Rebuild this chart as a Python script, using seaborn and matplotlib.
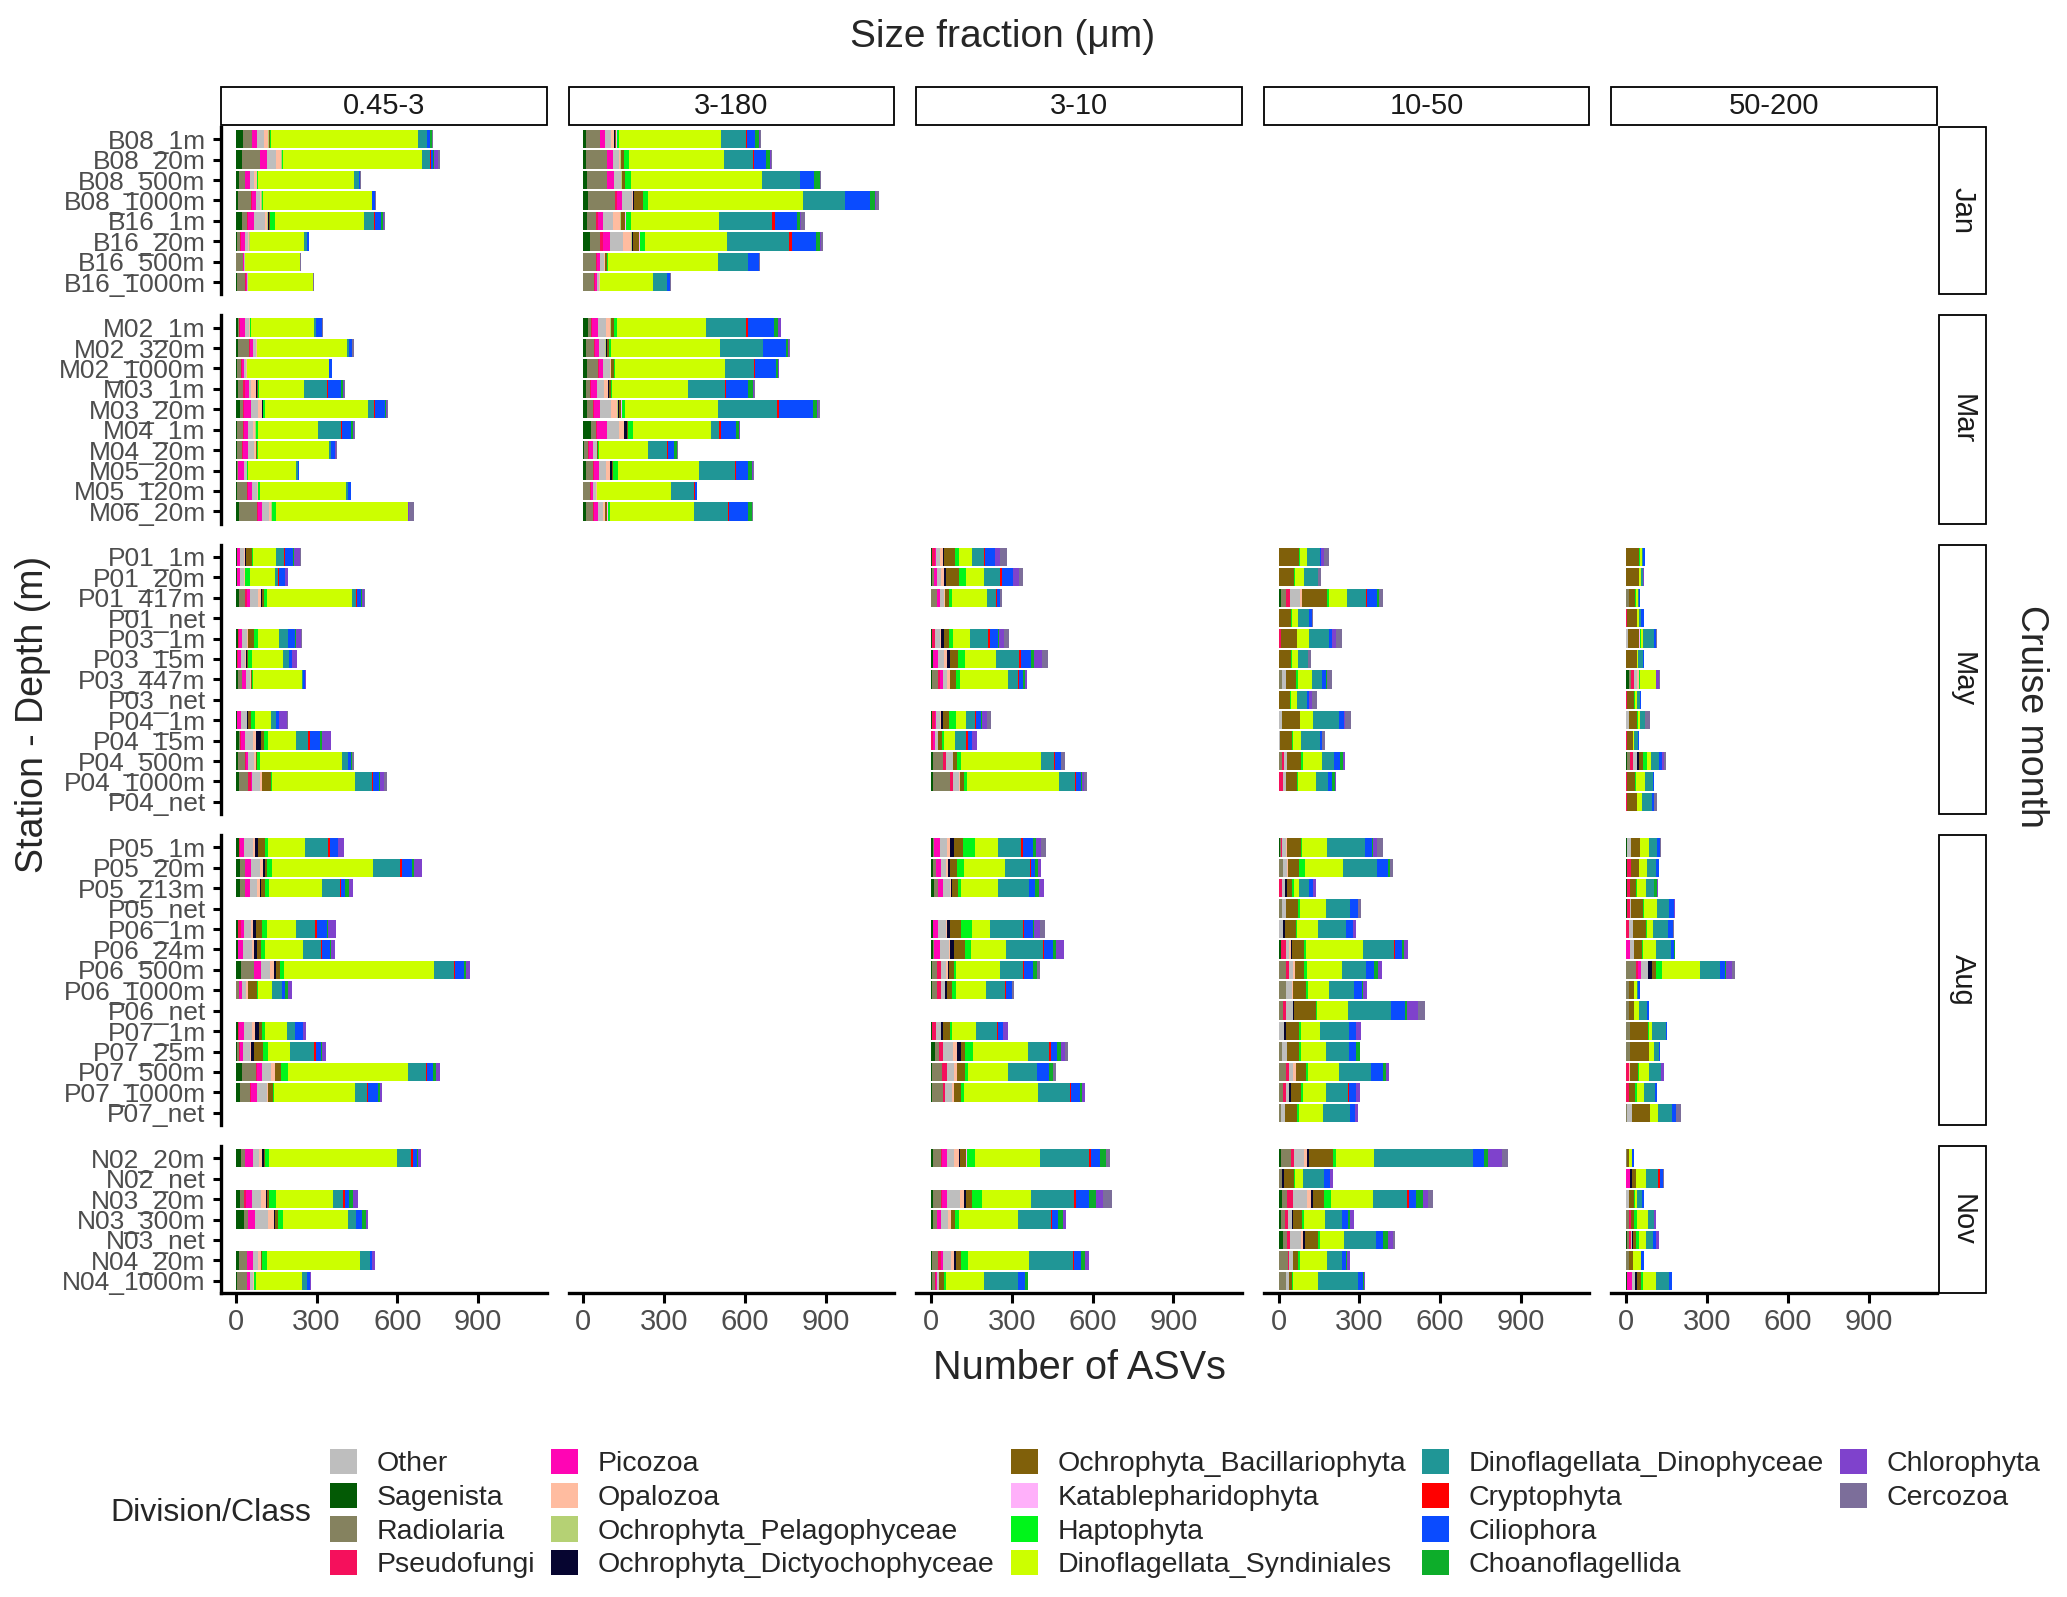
import numpy as np
import pandas as pd
import matplotlib.pyplot as plt
import matplotlib.patches as mpatches
import seaborn as sns

sns.set_theme(style="ticks")
plt.rcParams['font.family'] = ['Liberation Sans', 'DejaVu Sans']

# class codes in stacking order (from zero outwards)
STACK = ['Sag', 'Rad', 'Pse', 'Pic', 'Oth', 'Opa', 'Pel', 'Dic', 'Bac', 'Kat',
         'Hap', 'Syn', 'Din', 'Cry', 'Cil', 'Cho', 'Chl', 'Cer']
# legend order
LEGEND_CODES = ['Oth', 'Sag', 'Rad', 'Pse', 'Pic', 'Opa', 'Pel', 'Dic', 'Bac',
                'Kat', 'Hap', 'Syn', 'Din', 'Cry', 'Cil', 'Cho', 'Chl', 'Cer']
CLASS_NAMES = {
    'Oth': 'Other', 'Sag': 'Sagenista', 'Rad': 'Radiolaria', 'Pse': 'Pseudofungi',
    'Pic': 'Picozoa', 'Opa': 'Opalozoa', 'Pel': 'Ochrophyta_Pelagophyceae',
    'Dic': 'Ochrophyta_Dictyochophyceae', 'Bac': 'Ochrophyta_Bacillariophyta',
    'Kat': 'Katablepharidophyta', 'Hap': 'Haptophyta', 'Syn': 'Dinoflagellata_Syndiniales',
    'Din': 'Dinoflagellata_Dinophyceae', 'Cry': 'Cryptophyta', 'Cil': 'Ciliophora',
    'Cho': 'Choanoflagellida', 'Chl': 'Chlorophyta', 'Cer': 'Cercozoa',
}
CLASS_COLORS = {
    'Oth': '#BEBEBE', 'Sag': '#035A05', 'Rad': '#85825F', 'Pse': '#F5105C',
    'Pic': '#FF05B4', 'Opa': '#FFBCA0', 'Pel': '#B5D174', 'Dic': '#060530',
    'Bac': '#80600A', 'Kat': '#FFB0FA', 'Hap': '#00F51A', 'Syn': '#CCFF00',
    'Din': '#209696', 'Cry': '#FF0000', 'Cil': '#0A4BFF', 'Cho': '#0DAD2A',
    'Chl': '#7F42CC', 'Cer': '#7C6E9A',
}

months = ['Jan', 'Mar', 'May', 'Aug', 'Nov']
samples_jan = ['B08_1m', 'B08_20m', 'B08_500m', 'B08_1000m', 'B16_1m', 'B16_20m',
               'B16_500m', 'B16_1000m']
samples_mar = ['M02_1m', 'M02_320m', 'M02_1000m', 'M03_1m', 'M03_20m', 'M04_1m',
               'M04_20m', 'M05_20m', 'M05_120m', 'M06_20m']
samples_may = ['P01_1m', 'P01_20m', 'P01_417m', 'P01_net', 'P03_1m', 'P03_15m',
               'P03_447m', 'P03_net', 'P04_1m', 'P04_15m', 'P04_500m', 'P04_1000m', 'P04_net']
samples_aug = ['P05_1m', 'P05_20m', 'P05_213m', 'P05_net', 'P06_1m', 'P06_24m',
               'P06_500m', 'P06_1000m', 'P06_net', 'P07_1m', 'P07_25m', 'P07_500m',
               'P07_1000m', 'P07_net']
samples_nov = ['N02_20m', 'N02_net', 'N03_20m', 'N03_300m', 'N03_net', 'N04_20m', 'N04_1000m']

fractions = ['0.45-3', '3-180', '3-10', '10-50', '50-200']

asv_045_3 = {
    'B08_1m': dict(Sag=26, Rad=33, Pic=21, Oth=25, Opa=16, Pel=3, Bac=2, Hap=3, Syn=548, Din=31, Cry=2, Cil=10, Cho=8, Chl=2, Cer=3),
    'B08_20m': dict(Sag=24, Rad=65, Pse=2, Pic=24, Oth=35, Opa=18, Pel=3, Hap=3, Syn=519, Din=29, Cry=2, Cil=9, Cho=4, Chl=13, Cer=8),
    'B08_500m': dict(Sag=13, Rad=20, Pse=3, Pic=18, Oth=12, Opa=12, Pel=2, Hap=3, Syn=355, Din=21, Cil=3, Cer=4),
    'B08_1000m': dict(Sag=10, Rad=48, Pse=3, Pic=13, Oth=15, Opa=5, Pel=3, Hap=4, Syn=403, Din=3, Cil=10, Cer=4),
    'B16_1m': dict(Sag=22, Rad=21, Pse=3, Pic=22, Oth=39, Opa=10, Pel=3, Dic=2, Bac=4, Hap=18, Syn=331, Din=39, Cry=2, Cil=22, Cho=10, Chl=3, Cer=4),
    'B16_20m': dict(Sag=5, Rad=10, Pse=3, Pic=17, Oth=9, Opa=5, Pel=2, Hap=3, Syn=198, Din=13, Cil=5, Cer=3),
    'B16_500m': dict(Sag=2, Rad=24, Pse=2, Pic=3, Oth=2, Syn=204, Din=2, Cer=4),
    'B16_1000m': dict(Sag=5, Rad=30, Pse=2, Pic=5, Oth=3, Opa=2, Syn=238, Cil=2, Cer=3),
    'M02_1m': dict(Sag=10, Rad=3, Pse=3, Pic=18, Oth=14, Opa=3, Hap=5, Syn=234, Din=7, Cil=22, Cer=3),
    'M02_320m': dict(Sag=10, Rad=38, Pse=3, Pic=14, Oth=9, Opa=3, Hap=3, Syn=333, Din=8, Cil=9, Chl=3, Cer=4),
    'M02_1000m': dict(Sag=3, Rad=18, Pse=2, Pic=8, Oth=6, Opa=3, Hap=3, Syn=304, Cil=10, Cer=2),
    'M03_1m': dict(Sag=10, Rad=18, Pse=8, Pic=12, Oth=10, Opa=16, Dic=3, Bac=5, Hap=3, Syn=170, Din=84, Cry=5, Cil=46, Cho=8, Chl=5, Cer=3),
    'M03_20m': dict(Sag=17, Rad=10, Pse=4, Pic=27, Oth=26, Opa=13, Dic=3, Hap=9, Syn=383, Din=21, Cry=5, Cil=37, Cho=3, Chl=3, Cer=4),
    'M04_1m': dict(Sag=4, Rad=22, Pse=4, Pic=16, Oth=16, Opa=10, Pel=3, Hap=9, Syn=220, Din=85, Cry=5, Cil=33, Cho=8, Chl=3, Cer=5),
    'M04_20m': dict(Sag=4, Rad=20, Pse=3, Pic=20, Oth=20, Opa=9, Bac=3, Hap=4, Syn=263, Din=9, Cil=13, Chl=3, Cer=4),
    'M05_20m': dict(Sag=4, Rad=3, Pse=3, Pic=20, Oth=10, Opa=3, Hap=2, Syn=177, Din=9, Cil=3, Cer=2),
    'M05_120m': dict(Sag=5, Rad=37, Pse=3, Pic=16, Oth=18, Opa=3, Hap=8, Syn=320, Din=8, Cil=8, Cer=2),
    'M06_20m': dict(Sag=12, Rad=67, Pse=3, Pic=16, Oth=24, Opa=9, Pel=3, Hap=17, Syn=487, Din=3, Chl=2, Cer=17),
    'P01_1m': dict(Sag=3, Pse=2, Pic=10, Oth=15, Opa=4, Dic=3, Bac=22, Hap=4, Syn=87, Din=30, Cry=2, Cil=32, Cho=3, Chl=21, Cer=4),
    'P01_20m': dict(Sag=3, Pic=12, Oth=15, Opa=3, Bac=3, Hap=15, Syn=95, Din=12, Cry=2, Cil=22, Chl=10, Cer=3),
    'P01_417m': dict(Sag=13, Rad=21, Pse=6, Pic=12, Oth=30, Opa=10, Dic=7, Bac=4, Hap=12, Syn=316, Din=16, Cry=2, Cil=17, Cho=3, Chl=8, Cer=3),
    'P03_1m': dict(Sag=9, Pse=3, Pic=12, Oth=17, Opa=3, Dic=3, Bac=20, Hap=15, Syn=80, Din=30, Cry=3, Cil=24, Cho=3, Chl=19, Cer=4),
    'P03_15m': dict(Sag=4, Pse=3, Pic=11, Oth=16, Opa=3, Dic=6, Bac=3, Hap=13, Syn=118, Din=20, Cry=2, Cil=11, Chl=16, Cer=3),
    'P03_447m': dict(Sag=7, Rad=17, Pic=13, Oth=16, Opa=5, Bac=3, Hap=3, Syn=181, Din=3, Cil=8, Chl=3, Cer=3),
    'P04_1m': dict(Sag=3, Pic=15, Oth=22, Opa=3, Dic=3, Bac=10, Hap=15, Syn=58, Din=19, Cry=3, Cil=11, Chl=27, Cer=4),
    'P04_15m': dict(Sag=12, Rad=4, Pse=4, Pic=15, Oth=30, Opa=11, Dic=17, Bac=13, Hap=15, Syn=103, Din=43, Cry=7, Cil=38, Cho=8, Chl=32, Cer=2),
    'P04_500m': dict(Sag=7, Rad=29, Pse=3, Pic=7, Oth=23, Opa=6, Bac=3, Hap=10, Syn=306, Din=21, Cry=2, Cil=12, Cho=3, Cer=5),
    'P04_1000m': dict(Sag=11, Rad=36, Pse=11, Pic=3, Oth=28, Opa=10, Bac=33, Hap=3, Syn=307, Din=64, Cry=2, Cil=24, Cho=4, Chl=16, Cer=8),
    'P05_1m': dict(Sag=11, Pse=6, Pic=12, Oth=33, Opa=10, Dic=11, Bac=26, Hap=11, Syn=137, Din=85, Cry=7, Cil=29, Chl=24),
    'P05_20m': dict(Sag=17, Rad=17, Pic=22, Oth=34, Opa=10, Dic=7, Bac=10, Hap=19, Syn=374, Din=100, Cry=7, Cil=38, Cho=5, Chl=32),
    'P05_213m': dict(Sag=16, Rad=18, Pic=19, Oth=27, Opa=10, Dic=3, Bac=16, Hap=15, Syn=197, Din=67, Cry=2, Cil=17, Cho=15, Chl=13),
    'P06_1m': dict(Sag=10, Pse=10, Pic=12, Oth=24, Opa=9, Dic=10, Bac=24, Hap=18, Syn=108, Din=70, Cry=7, Cil=38, Cho=3, Chl=28),
    'P06_24m': dict(Sag=7, Pse=3, Pic=18, Oth=32, Opa=6, Dic=11, Bac=15, Hap=16, Syn=143, Din=67, Cry=2, Cil=30, Cho=3, Chl=16),
    'P06_500m': dict(Sag=19, Rad=49, Pic=24, Oth=36, Opa=15, Dic=7, Bac=15, Hap=15, Syn=556, Din=75, Cry=3, Cil=32, Cho=10, Chl=12),
    'P06_1000m': dict(Rad=12, Pic=10, Oth=16, Opa=6, Bac=34, Hap=3, Syn=53, Din=38, Cil=10, Cho=11, Chl=15),
    'P07_1m': dict(Sag=10, Pse=3, Pic=19, Oth=28, Opa=12, Dic=15, Bac=12, Hap=11, Syn=80, Din=28, Cry=3, Cil=27, Chl=13),
    'P07_25m': dict(Sag=3, Rad=10, Pse=3, Pic=11, Oth=27, Opa=3, Dic=10, Bac=33, Hap=19, Syn=84, Din=87, Cry=7, Cil=21, Cho=3, Chl=15),
    'P07_500m': dict(Sag=23, Rad=51, Pse=3, Pic=22, Oth=32, Opa=16, Bac=21, Hap=24, Syn=447, Din=68, Cry=3, Cil=22, Cho=12, Chl=15),
    'P07_1000m': dict(Sag=16, Rad=38, Pse=3, Pic=21, Oth=39, Opa=4, Bac=18, Hap=3, Syn=301, Din=45, Cry=2, Cil=38, Cho=8, Chl=6),
    'N02_20m': dict(Sag=19, Rad=16, Pic=29, Oth=22, Opa=13, Dic=7, Bac=3, Hap=15, Syn=475, Din=51, Cry=7, Cil=17, Cho=3, Chl=12),
    'N03_20m': dict(Sag=17, Rad=12, Pse=9, Pic=21, Oth=36, Opa=18, Dic=3, Bac=9, Hap=26, Syn=211, Din=36, Cry=7, Cil=17, Cho=13, Chl=18),
    'N03_300m': dict(Sag=29, Rad=15, Pse=3, Pic=24, Oth=50, Opa=21, Dic=3, Bac=11, Hap=19, Syn=243, Din=27, Cry=3, Cil=22, Cho=12, Chl=9),
    'N04_20m': dict(Sag=13, Rad=27, Pic=24, Oth=18, Opa=10, Dic=3, Bac=3, Hap=18, Syn=346, Din=36, Cil=8, Chl=12),
    'N04_1000m': dict(Sag=3, Rad=40, Pic=10, Oth=12, Opa=3, Hap=7, Syn=171, Din=17, Cil=13, Chl=4),
}

asv_3_180 = {
    'B08_1m': dict(Sag=8, Rad=52, Pse=3, Pic=16, Oth=24, Opa=9, Pel=2, Dic=2, Bac=6, Kat=2, Hap=10, Syn=377, Din=94, Cry=3, Cil=30, Cho=14, Chl=3, Cer=5),
    'B08_20m': dict(Sag=9, Rad=77, Pse=3, Pic=20, Oth=22, Opa=6, Pel=2, Dic=2, Bac=9, Hap=20, Syn=351, Din=109, Cry=3, Cil=46, Cho=13, Chl=3, Cer=6),
    'B08_500m': dict(Sag=13, Rad=73, Pse=3, Pic=24, Oth=25, Opa=3, Pel=2, Bac=10, Hap=24, Syn=487, Din=139, Cry=3, Cil=52, Cho=20, Chl=2, Cer=2),
    'B08_1000m': dict(Sag=18, Rad=100, Pse=8, Pic=18, Oth=37, Opa=3, Pel=2, Dic=2, Bac=33, Kat=2, Hap=18, Syn=574, Din=155, Cry=3, Cil=92, Cho=18, Chl=3, Cer=13),
    'B16_1m': dict(Sag=13, Rad=33, Pse=8, Pic=20, Oth=37, Opa=25, Pel=3, Dic=2, Bac=14, Kat=2, Hap=21, Syn=327, Din=196, Cry=10, Cil=81, Cho=13, Chl=3, Cer=16),
    'B16_20m': dict(Sag=24, Rad=37, Pse=13, Pic=26, Oth=48, Opa=30, Pel=3, Dic=4, Bac=22, Kat=3, Hap=20, Syn=303, Din=230, Cry=10, Cil=89, Cho=18, Chl=3, Cer=5),
    'B16_500m': dict(Rad=46, Pse=3, Pic=14, Oth=13, Opa=3, Bac=10, Hap=3, Syn=409, Din=109, Cil=41, Cer=3),
    'B16_1000m': dict(Rad=41, Pse=3, Pic=5, Oth=10, Opa=2, Syn=199, Din=51, Cil=12, Cer=3),
    'M02_1m': dict(Sag=17, Rad=12, Pse=3, Pic=21, Oth=30, Opa=16, Pel=2, Dic=3, Bac=9, Kat=2, Hap=10, Syn=330, Din=148, Cry=8, Cil=98, Cho=13, Chl=10, Cer=3),
    'M02_320m': dict(Sag=10, Rad=29, Pse=3, Pic=17, Oth=20, Opa=3, Pel=2, Dic=2, Bac=8, Hap=9, Syn=406, Din=156, Cry=3, Cil=86, Cho=5, Chl=3, Cer=4),
    'M02_1000m': dict(Sag=13, Rad=41, Pse=3, Pic=17, Oth=26, Opa=3, Bac=12, Hap=3, Syn=407, Din=110, Cry=2, Cil=77, Cho=8, Chl=3, Cer=3),
    'M03_1m': dict(Sag=10, Rad=16, Pse=3, Pic=20, Oth=29, Opa=14, Dic=3, Bac=9, Hap=3, Syn=282, Din=135, Cry=7, Cil=81, Cho=16, Chl=5, Cer=4),
    'M03_20m': dict(Sag=13, Rad=24, Pse=3, Pic=21, Oth=42, Opa=22, Pel=3, Dic=3, Bac=10, Kat=2, Hap=12, Syn=345, Din=219, Cry=8, Cil=124, Cho=16, Chl=5, Cer=8),
    'M04_1m': dict(Sag=28, Rad=20, Pse=3, Pic=35, Oth=46, Opa=17, Pel=3, Dic=9, Bac=3, Kat=2, Hap=20, Syn=288, Din=31, Cry=7, Cil=54, Cho=12, Chl=2, Cer=3),
    'M04_20m': dict(Sag=3, Rad=14, Pse=3, Pic=16, Oth=13, Opa=3, Bac=3, Hap=3, Syn=182, Din=71, Cry=3, Cil=21, Cho=13, Cer=3),
    'M05_20m': dict(Sag=10, Rad=26, Pse=3, Pic=20, Oth=26, Opa=13, Dic=8, Bac=3, Hap=18, Syn=302, Din=134, Cry=3, Cil=46, Cho=13, Chl=5, Cer=3),
    'M05_120m': dict(Rad=24, Pse=3, Pic=10, Oth=10, Opa=3, Syn=274, Din=86, Cry=3, Cil=8, Cer=2),
    'M06_20m': dict(Sag=10, Rad=26, Pse=3, Pic=16, Oth=18, Opa=8, Bac=8, Kat=2, Hap=8, Syn=312, Din=126, Cry=3, Cil=72, Cho=14, Cer=2),
}

asv_3_10 = {
    'P01_1m': dict(Sag=2, Rad=2, Pse=10, Pic=3, Oth=18, Opa=10, Dic=5, Bac=39, Hap=15, Syn=49, Din=44, Cry=5, Cil=34, Chl=22, Cer=24),
    'P01_20m': dict(Sag=3, Rad=7, Pic=12, Oth=15, Opa=10, Dic=10, Bac=48, Hap=24, Syn=67, Din=61, Cry=7, Cil=41, Chl=20, Cer=15),
    'P01_417m': dict(Rad=21, Pic=12, Oth=16, Opa=3, Bac=13, Hap=12, Syn=132, Din=33, Cry=2, Cil=11, Cer=7),
    'P03_1m': dict(Sag=3, Pse=12, Oth=18, Opa=4, Dic=11, Bac=17, Hap=17, Syn=61, Din=68, Cry=7, Cil=32, Cho=4, Chl=18, Cer=18),
    'P03_15m': dict(Sag=9, Pic=18, Oth=20, Opa=12, Dic=10, Bac=33, Hap=26, Syn=112, Din=85, Cry=9, Cil=38, Cho=11, Chl=28, Cer=24),
    'P03_447m': dict(Sag=3, Rad=23, Pse=6, Pic=11, Oth=17, Opa=10, Bac=21, Hap=18, Syn=177, Din=37, Cry=2, Cil=16, Cho=8, Chl=8),
    'P04_1m': dict(Sag=3, Pse=11, Pic=3, Oth=16, Opa=4, Dic=7, Bac=21, Hap=26, Syn=39, Din=34, Cry=3, Cil=20, Cho=3, Chl=18, Cer=15),
    'P04_15m': dict(Pse=9, Pic=7, Oth=9, Bac=17, Hap=7, Syn=39, Din=43, Cry=6, Cil=17, Chl=17),
    'P04_500m': dict(Sag=7, Rad=37, Pse=13, Oth=23, Opa=3, Bac=13, Hap=15, Syn=296, Din=51, Cry=2, Cil=23, Cer=16),
    'P04_1000m': dict(Sag=6, Rad=63, Pse=12, Oth=23, Opa=3, Bac=15, Hap=12, Syn=343, Din=59, Cry=2, Cil=20, Cho=3, Chl=8, Cer=10),
    'P05_1m': dict(Sag=9, Rad=3, Pic=20, Oth=27, Opa=10, Dic=15, Bac=35, Hap=43, Syn=85, Din=88, Cry=6, Cil=38, Cho=10, Chl=21, Cer=18),
    'P05_20m': dict(Sag=7, Rad=11, Pic=18, Oth=18, Opa=9, Dic=6, Bac=29, Hap=24, Syn=152, Din=93, Cry=3, Cil=17, Cho=10, Chl=12),
    'P05_213m': dict(Sag=10, Rad=15, Pic=20, Oth=24, Opa=7, Dic=3, Bac=21, Hap=10, Syn=137, Din=117, Cil=21, Cho=16, Chl=17),
    'P06_1m': dict(Sag=7, Pic=20, Oth=27, Opa=7, Dic=11, Bac=40, Hap=40, Syn=66, Din=123, Cry=6, Cil=32, Cho=5, Chl=21, Cer=18),
    'P06_24m': dict(Sag=7, Rad=3, Pic=24, Oth=34, Opa=3, Dic=15, Bac=39, Hap=24, Syn=131, Din=135, Cry=6, Cil=33, Cho=11, Chl=27),
    'P06_500m': dict(Sag=3, Rad=21, Pse=15, Oth=17, Opa=7, Dic=3, Bac=18, Hap=9, Syn=162, Din=88, Cry=3, Cil=33, Cho=16, Cer=9),
    'P06_1000m': dict(Sag=3, Rad=21, Pse=12, Oth=15, Dic=7, Bac=21, Hap=13, Syn=112, Din=72, Cry=2, Cil=21, Cho=3, Cer=7),
    'P07_1m': dict(Sag=3, Pse=16, Oth=20, Dic=7, Bac=24, Hap=9, Syn=87, Din=78, Cry=3, Cil=20, Chl=18),
    'P07_25m': dict(Sag=15, Rad=13, Pse=18, Oth=34, Opa=15, Dic=17, Bac=16, Hap=28, Syn=204, Din=79, Cry=7, Cil=23, Cho=12, Chl=18, Cer=10),
    'P07_500m': dict(Sag=3, Rad=39, Pse=16, Oth=27, Opa=12, Bac=30, Hap=12, Syn=148, Din=106, Cry=2, Cil=43, Cho=16, Cer=9),
    'P07_1000m': dict(Sag=3, Rad=40, Pse=10, Oth=26, Opa=5, Bac=29, Hap=9, Syn=275, Din=120, Cry=2, Cil=33, Cho=10, Chl=10),
    'N02_20m': dict(Sag=6, Rad=30, Pse=6, Pic=16, Oth=27, Opa=18, Dic=6, Bac=20, Kat=3, Hap=33, Syn=238, Din=183, Cry=7, Cil=35, Cho=21, Cer=15),
    'N03_20m': dict(Sag=7, Rad=29, Pse=6, Pic=16, Oth=49, Opa=17, Dic=5, Bac=24, Hap=37, Syn=183, Din=159, Cry=7, Cil=48, Cho=26, Chl=24, Cer=34),
    'N03_300m': dict(Sag=7, Rad=15, Pic=17, Oth=24, Opa=10, Bac=16, Hap=16, Syn=218, Din=123, Cry=2, Cil=24, Cho=18, Chl=12),
    'N04_20m': dict(Sag=3, Rad=23, Pse=10, Pic=10, Oth=27, Opa=12, Dic=9, Bac=18, Hap=24, Syn=229, Din=163, Cry=2, Cil=28, Cho=15, Chl=12),
    'N04_1000m': dict(Sag=3, Rad=13, Pse=4, Pic=3, Oth=7, Bac=17, Hap=9, Syn=140, Din=126, Cil=27, Cho=10),
}

asv_10_50 = {
    'P01_1m': dict(Rad=3, Bac=74, Hap=3, Syn=24, Din=51, Cil=3, Chl=10, Cer=21),
    'P01_20m': dict(Rad=3, Bac=55, Hap=3, Syn=33, Din=51, Cil=3, Cer=10),
    'P01_417m': dict(Sag=10, Rad=16, Pse=15, Oth=37, Opa=9, Bac=91, Hap=10, Syn=65, Din=72, Cry=2, Cil=40, Cho=7, Cer=12),
    'P01_net': dict(Rad=3, Bac=43, Hap=2, Syn=24, Din=41, Cil=12, Cer=3),
    'P03_1m': dict(Pse=10, Bac=57, Hap=2, Syn=43, Din=76, Cil=9, Chl=17, Cer=22),
    'P03_15m': dict(Rad=3, Bac=44, Hap=3, Syn=21, Din=39, Cer=11),
    'P03_447m': dict(Rad=13, Oth=15, Bac=37, Hap=7, Syn=51, Din=39, Cil=15, Cho=4, Cer=18),
    'P03_net': dict(Pse=3, Bac=41, Hap=2, Syn=21, Din=37, Cil=9, Chl=12, Cer=16),
    'P04_1m': dict(Pse=3, Oth=10, Bac=65, Hap=2, Syn=46, Din=97, Cil=20, Chl=3, Cer=22),
    'P04_15m': dict(Pse=3, Oth=3, Bac=45, Hap=2, Syn=32, Din=67, Cil=10, Cer=12),
    'P04_500m': dict(Sag=3, Rad=9, Pse=7, Oth=11, Bac=54, Hap=6, Syn=72, Din=43, Cry=2, Cil=22, Cho=9, Chl=10),
    'P04_1000m': dict(Pse=16, Oth=12, Bac=40, Hap=3, Syn=69, Din=45, Cil=15, Cho=10, Chl=3),
    'P05_1m': dict(Sag=7, Rad=3, Pse=3, Oth=15, Opa=3, Bac=52, Hap=3, Syn=94, Din=140, Cry=2, Cil=24, Cho=3, Chl=18, Cer=21),
    'P05_20m': dict(Sag=3, Rad=12, Oth=18, Opa=3, Bac=40, Hap=21, Syn=141, Din=127, Cry=2, Cil=38, Cho=9, Cer=10),
    'P05_213m': dict(Pse=12, Oth=13, Dic=6, Bac=18, Hap=9, Syn=18, Din=37, Cil=15, Chl=10),
    'P05_net': dict(Rad=13, Oth=15, Bac=45, Hap=7, Syn=96, Din=88, Cil=32, Cer=10),
    'P06_1m': dict(Pse=3, Oth=15, Dic=7, Bac=39, Hap=3, Syn=79, Din=106, Cil=26, Chl=11),
    'P06_24m': dict(Sag=10, Pse=18, Oth=12, Opa=7, Dic=3, Bac=44, Hap=9, Syn=212, Din=112, Cry=7, Cil=26, Cho=6, Chl=15),
    'P06_500m': dict(Rad=28, Pse=12, Oth=15, Opa=7, Bac=33, Hap=9, Syn=132, Din=88, Cry=2, Cil=29, Cho=15, Chl=15),
    'P06_1000m': dict(Rad=26, Pse=3, Oth=21, Opa=3, Bac=48, Hap=10, Syn=78, Din=90, Cil=32, Cho=3, Chl=16),
    'P06_net': dict(Sag=3, Rad=15, Pse=10, Oth=24, Dic=7, Bac=80, Hap=5, Syn=114, Din=161, Cil=49, Cho=10, Chl=39, Cer=28),
    'P07_1m': dict(Pse=3, Oth=18, Dic=6, Bac=49, Hap=7, Syn=69, Din=108, Cil=28, Chl=18),
    'P07_25m': dict(Rad=13, Oth=17, Bac=46, Hap=7, Syn=93, Din=85, Cil=28, Cho=12),
    'P07_500m': dict(Rad=28, Pse=10, Oth=17, Opa=10, Bac=37, Hap=6, Syn=116, Din=118, Cil=46, Cho=12, Chl=9),
    'P07_1000m': dict(Rad=18, Pse=10, Oth=12, Dic=7, Bac=35, Hap=10, Syn=84, Din=83, Cry=2, Cil=26, Chl=15),
    'P07_net': dict(Rad=10, Oth=12, Bac=45, Hap=10, Syn=89, Din=99, Cil=19, Chl=12),
    'N02_20m': dict(Sag=10, Rad=35, Pse=12, Oth=38, Opa=9, Dic=10, Bac=89, Hap=11, Syn=141, Din=365, Cry=2, Cil=39, Cho=17, Chl=51, Cer=24),
    'N02_net': dict(Rad=13, Dic=7, Bac=38, Hap=3, Syn=30, Din=77, Cil=24, Chl=10),
    'N03_20m': dict(Sag=12, Rad=18, Pse=24, Oth=50, Opa=16, Dic=7, Bac=43, Hap=26, Syn=155, Din=125, Cry=7, Cil=29, Cho=24, Chl=17, Cer=22),
    'N03_300m': dict(Sag=10, Rad=12, Pse=12, Oth=16, Dic=3, Bac=34, Hap=9, Syn=77, Din=61, Cry=2, Cil=21, Cho=9, Chl=13),
    'N03_net': dict(Sag=16, Rad=15, Pse=12, Oth=40, Opa=9, Dic=7, Bac=49, Hap=6, Syn=88, Din=118, Cry=2, Cil=26, Cho=18, Chl=18, Cer=9),
    'N04_20m': dict(Rad=34, Pse=3, Oth=15, Dic=3, Bac=18, Hap=6, Syn=100, Din=55, Cil=18, Cho=3, Chl=11),
    'N04_1000m': dict(Rad=26, Pse=3, Oth=9, Bac=12, Hap=5, Syn=91, Din=147, Cil=21, Cho=4, Chl=4),
}

asv_50_200 = {
    'P01_1m': dict(Kat=3, Bac=46, Hap=3, Syn=5, Din=7, Cil=6),
    'P01_20m': dict(Bac=49, Syn=6, Din=6, Chl=5),
    'P01_417m': dict(Rad=10, Bac=24, Hap=3, Syn=6, Din=3, Cil=4),
    'P01_net': dict(Pse=3, Bac=36, Hap=3, Syn=6, Din=7, Cil=10),
    'P03_1m': dict(Kat=4, Oth=6, Bac=42, Hap=4, Syn=7, Din=41, Cil=7, Cer=5),
    'P03_15m': dict(Bac=39, Syn=6, Din=16, Cil=6),
    'P03_447m': dict(Sag=10, Rad=7, Pse=11, Oth=12, Opa=6, Hap=7, Syn=59, Chl=8, Cer=6),
    'P03_net': dict(Pse=3, Bac=27, Hap=3, Syn=6, Din=12, Cil=5),
    'P04_1m': dict(Oth=12, Bac=30, Hap=3, Syn=8, Din=18, Cer=18),
    'P04_15m': dict(Pse=3, Bac=21, Syn=6, Din=15, Cil=3),
    'P04_500m': dict(Sag=3, Rad=11, Pse=10, Oth=15, Dic=7, Bac=15, Hap=16, Syn=16, Din=29, Cil=10, Chl=7, Cer=7),
    'P04_1000m': dict(Pse=3, Bac=30, Hap=3, Syn=33, Din=30, Cil=6),
    'P04_net': dict(Pse=3, Bac=36, Syn=18, Din=39, Cil=8, Cer=12),
    'P05_1m': dict(Sag=3, Oth=15, Bac=34, Syn=32, Din=32, Cil=10, Cer=4),
    'P05_20m': dict(Sag=3, Pse=15, Bac=30, Syn=30, Din=32, Cil=11),
    'P05_213m': dict(Sag=3, Pse=12, Bac=21, Hap=3, Syn=34, Din=32, Cho=10, Chl=4),
    'P05_net': dict(Sag=3, Pse=12, Oth=3, Bac=45, Hap=4, Syn=46, Din=45, Cil=21, Chl=4),
    'P06_1m': dict(Pse=12, Oth=12, Dic=3, Bac=45, Hap=6, Syn=22, Din=57, Cil=16, Cer=4),
    'P06_24m': dict(Pic=16, Oth=12, Bac=32, Hap=3, Syn=46, Din=57, Cil=12, Cho=4),
    'P06_500m': dict(Rad=36, Pse=8, Pic=12, Oth=25, Dic=15, Bac=16, Hap=21, Syn=142, Din=73, Cry=2, Cil=17, Cho=5, Chl=21, Cer=12),
    'P06_1000m': dict(Rad=12, Bac=16, Syn=12, Din=5, Cil=7),
    'P06_net': dict(Rad=12, Bac=18, Syn=17, Din=29, Cil=10),
    'P07_1m': dict(Rad=16, Bac=64, Hap=3, Syn=12, Din=51, Cil=7),
    'P07_25m': dict(Rad=16, Bac=67, Hap=3, Syn=17, Din=19, Cil=5),
    'P07_500m': dict(Pse=12, Opa=3, Bac=28, Hap=3, Syn=39, Din=46, Chl=10),
    'P07_1000m': dict(Pse=12, Bac=22, Hap=8, Syn=24, Din=40, Cil=7),
    'P07_net': dict(Rad=3, Oth=20, Bac=64, Hap=3, Syn=29, Din=50, Cil=17, Cer=17),
    'N02_20m': dict(Rad=4, Bac=6, Syn=12, Cil=6),
    'N02_net': dict(Pic=16, Dic=6, Bac=13, Hap=3, Syn=36, Din=45, Cry=5, Cil=12, Cer=5),
    'N03_20m': dict(Oth=10, Bac=18, Hap=3, Syn=11, Din=16, Cil=10),
    'N03_300m': dict(Rad=11, Pse=7, Bac=12, Hap=10, Syn=41, Din=22, Chl=8),
    'N03_net': dict(Sag=3, Rad=7, Pse=7, Oth=3, Dic=6, Bac=12, Hap=8, Syn=28, Din=24, Cil=12, Chl=10),
    'N04_20m': dict(Rad=12, Bac=12, Hap=3, Syn=29, Cil=10),
    'N04_1000m': dict(Sag=3, Pic=17, Oth=12, Dic=8, Bac=15, Hap=7, Syn=48, Din=48, Cil=12),
}

month_samples = [samples_jan, samples_mar, samples_may, samples_aug, samples_nov]
fraction_data = [asv_045_3, asv_3_180, asv_3_10, asv_10_50, asv_50_200]

# long table
records = []
for frac, data in zip(fractions, fraction_data):
    for sample, counts in data.items():
        for code, val in counts.items():
            records.append((frac, sample, code, val))
df = pd.DataFrame(records, columns=['fraction', 'sample', 'cls', 'asvs'])

xmax = df.groupby(['fraction', 'sample'])['asvs'].sum().max()

W, H = 2067, 1597
fig = plt.figure(figsize=(W / 100, H / 100), dpi=100)
heights = [len(s) + 0.2 for s in month_samples]
gs = fig.add_gridspec(5, 5, height_ratios=heights,
                      left=221 / W, right=1937 / W, top=1 - 127 / H, bottom=1 - 1293 / H,
                      wspace=0.0675, hspace=0.097)

axes = np.empty((5, 5), dtype=object)
for i, samples in enumerate(month_samples):
    for j, frac in enumerate(fractions):
        ax = fig.add_subplot(gs[i, j])
        axes[i, j] = ax
        sub = df[(df['fraction'] == frac) & (df['sample'].isin(samples))]
        wide = (sub.pivot_table(index='sample', columns='cls', values='asvs', aggfunc='sum')
                .reindex(index=samples, columns=STACK).fillna(0))
        ypos = np.arange(len(samples))
        left = np.zeros(len(samples))
        for code in STACK:
            vals = wide[code].values
            ax.barh(ypos, vals, left=left, height=0.9, color=CLASS_COLORS[code], linewidth=0)
            left += vals
        ax.set_xlim(-0.05 * xmax, 1.05 * xmax)
        ax.set_ylim(len(samples) - 0.4, -0.6)
        ax.set_facecolor('white')
        for side in ['top', 'right', 'left', 'bottom']:
            ax.spines[side].set_visible(False)
        ax.set_xticks([0, 300, 600, 900])
        ax.set_yticks(ypos)
        ax.set_yticklabels(samples)
        ax.tick_params(axis='y', left=(j == 0), labelleft=(j == 0), length=6, width=2.2,
                       color='black', labelsize=19, labelcolor='#4D4D4D', pad=5)
        ax.tick_params(axis='x', bottom=(i == 4), labelbottom=(i == 4), length=7, width=2.2,
                       color='black', labelsize=21, labelcolor='#4D4D4D', pad=4)
        if j == 0:
            ax.spines['left'].set_visible(True)
            ax.spines['left'].set_linewidth(2.4)
            ax.spines['left'].set_color('black')
        if i == 4:
            ax.spines['bottom'].set_visible(True)
            ax.spines['bottom'].set_linewidth(2.4)
            ax.spines['bottom'].set_color('black')
        ax.grid(False)

# top strips (size fraction)
for j, frac in enumerate(fractions):
    pos = axes[0, j].get_position()
    y0, y1 = 1 - 125 / H, 1 - 87 / H
    fig.patches.append(mpatches.Rectangle((pos.x0, y0), pos.width, y1 - y0,
                                          transform=fig.transFigure, facecolor='white',
                                          edgecolor='black', linewidth=1.3))
    fig.text(pos.x0 + pos.width / 2, (y0 + y1) / 2, frac, ha='center', va='center',
             fontsize=21, color='#1A1A1A')

# right strips (cruise month)
for i, month in enumerate(months):
    pos = axes[i, 4].get_position()
    x0, x1 = 1939 / W, 1986 / W
    fig.patches.append(mpatches.Rectangle((x0, pos.y0), x1 - x0, pos.height,
                                          transform=fig.transFigure, facecolor='white',
                                          edgecolor='black', linewidth=1.3))
    fig.text((x0 + x1) / 2, pos.y0 + pos.height / 2, month, ha='center', va='center',
             rotation=-90, fontsize=21, color='#1A1A1A')

fig.text(1003 / W, 1 - 37 / H, 'Size fraction (μm)', ha='center', va='center', fontsize=28)
fig.text(1079 / W, 1 - 1368 / H, 'Number of ASVs', ha='center', va='center', fontsize=28.5)
fig.text(33 / W, 1 - 714 / H, 'Station - Depth (m)', ha='center', va='center',
         rotation=90, fontsize=27)
fig.text(2031 / W, 1 - 716 / H, 'Cruise month', ha='center', va='center',
         rotation=-90, fontsize=27)

# legend: 4 rows, column-major, two blank slots at the end of the last column
handles = [mpatches.Patch(facecolor=CLASS_COLORS[c], edgecolor='none', label=CLASS_NAMES[c])
           for c in LEGEND_CODES]
handles += [mpatches.Patch(facecolor='none', edgecolor='none', label=' ') for _ in range(2)]
fig.legend(handles=handles, ncol=5, loc='upper left', bbox_to_anchor=(330 / W, 1 - 1449 / H),
           frameon=False, fontsize=20.5, handlelength=0.95, handleheight=1.0,
           handletextpad=0.7, columnspacing=0.55, labelspacing=0.18, borderpad=0,
           borderaxespad=0)
fig.text(211 / W, 1 - 1513 / H, 'Division/Class', ha='center', va='center', fontsize=23)

fig.savefig('out.png', dpi=100, facecolor='white')
